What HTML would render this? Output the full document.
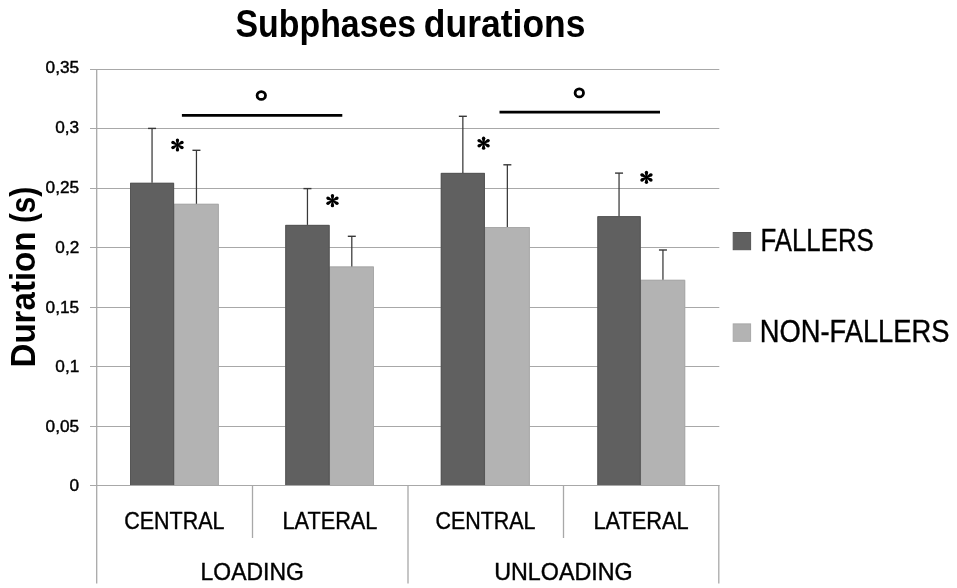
<!DOCTYPE html>
<html><head><meta charset="utf-8"><style>
html,body{margin:0;padding:0;background:#fff;width:957px;height:588px;overflow:hidden;position:relative}
svg text{-webkit-font-smoothing:antialiased}
</style></head><body>
<svg width="957" height="588" viewBox="0 0 957 588" style="position:absolute;left:0;top:0;filter:grayscale(100%)">
<line x1="90" y1="69.5" x2="719.3" y2="69.5" stroke="#a8a8a8" stroke-width="1.1"/>
<line x1="90" y1="128.5" x2="719.3" y2="128.5" stroke="#a8a8a8" stroke-width="1.1"/>
<line x1="90" y1="188.5" x2="719.3" y2="188.5" stroke="#a8a8a8" stroke-width="1.1"/>
<line x1="90" y1="247.5" x2="719.3" y2="247.5" stroke="#a8a8a8" stroke-width="1.1"/>
<line x1="90" y1="307.5" x2="719.3" y2="307.5" stroke="#a8a8a8" stroke-width="1.1"/>
<line x1="90" y1="366.5" x2="719.3" y2="366.5" stroke="#a8a8a8" stroke-width="1.1"/>
<line x1="90" y1="426.5" x2="719.3" y2="426.5" stroke="#a8a8a8" stroke-width="1.1"/>
<line x1="90" y1="485.5" x2="719.3" y2="485.5" stroke="#a8a8a8" stroke-width="1.1"/>
<line x1="96.7" y1="69" x2="96.7" y2="583.5" stroke="#a8a8a8" stroke-width="1.3"/>
<line x1="252.5" y1="485" x2="252.5" y2="538" stroke="#a8a8a8" stroke-width="1.3"/>
<line x1="408" y1="485" x2="408" y2="583.5" stroke="#a8a8a8" stroke-width="1.3"/>
<line x1="563.5" y1="485" x2="563.5" y2="538" stroke="#a8a8a8" stroke-width="1.3"/>
<line x1="718.8" y1="485" x2="718.8" y2="583.5" stroke="#a8a8a8" stroke-width="1.3"/>
<rect x="172.1" y="203.8" width="46.70" height="282.20" fill="#b3b3b3"/>
<path d="M174.10 486 V204.30 H218.30 V486" fill="none" stroke="#a8a8a8" stroke-width="1"/>
<rect x="130" y="182.8" width="44.10" height="303.20" fill="#606060"/>
<path d="M130.50 486 V183.30 H173.60 V486" fill="none" stroke="#565656" stroke-width="1"/>
<rect x="327.6" y="266.5" width="46.40" height="219.50" fill="#b3b3b3"/>
<path d="M329.60 486 V267.00 H373.50 V486" fill="none" stroke="#a8a8a8" stroke-width="1"/>
<rect x="285.3" y="224.9" width="44.30" height="261.10" fill="#606060"/>
<path d="M285.80 486 V225.40 H329.10 V486" fill="none" stroke="#565656" stroke-width="1"/>
<rect x="482.9" y="227" width="46.90" height="259.00" fill="#b3b3b3"/>
<path d="M484.90 486 V227.50 H529.30 V486" fill="none" stroke="#a8a8a8" stroke-width="1"/>
<rect x="440.8" y="172.9" width="44.10" height="313.10" fill="#606060"/>
<path d="M441.30 486 V173.40 H484.40 V486" fill="none" stroke="#565656" stroke-width="1"/>
<rect x="638.7" y="279.8" width="46.50" height="206.20" fill="#b3b3b3"/>
<path d="M640.70 486 V280.30 H684.70 V486" fill="none" stroke="#a8a8a8" stroke-width="1"/>
<rect x="597.4" y="216.2" width="43.30" height="269.80" fill="#606060"/>
<path d="M597.90 486 V216.70 H640.20 V486" fill="none" stroke="#565656" stroke-width="1"/>
<line x1="152.05" y1="182.8" x2="152.05" y2="128.4" stroke="#383838" stroke-width="1.25"/>
<line x1="148.05" y1="128.4" x2="156.05" y2="128.4" stroke="#383838" stroke-width="1.4"/>
<line x1="196.45" y1="203.8" x2="196.45" y2="150.3" stroke="#383838" stroke-width="1.25"/>
<line x1="192.45" y1="150.3" x2="200.45" y2="150.3" stroke="#383838" stroke-width="1.4"/>
<line x1="307.45" y1="224.9" x2="307.45" y2="188.6" stroke="#383838" stroke-width="1.25"/>
<line x1="303.45" y1="188.6" x2="311.45" y2="188.6" stroke="#383838" stroke-width="1.4"/>
<line x1="351.80" y1="266.5" x2="351.80" y2="236.3" stroke="#383838" stroke-width="1.25"/>
<line x1="347.80" y1="236.3" x2="355.80" y2="236.3" stroke="#383838" stroke-width="1.4"/>
<line x1="462.85" y1="172.9" x2="462.85" y2="116.3" stroke="#383838" stroke-width="1.25"/>
<line x1="458.85" y1="116.3" x2="466.85" y2="116.3" stroke="#383838" stroke-width="1.4"/>
<line x1="507.35" y1="227" x2="507.35" y2="164.8" stroke="#383838" stroke-width="1.25"/>
<line x1="503.35" y1="164.8" x2="511.35" y2="164.8" stroke="#383838" stroke-width="1.4"/>
<line x1="619.05" y1="216.2" x2="619.05" y2="173.1" stroke="#383838" stroke-width="1.25"/>
<line x1="615.05" y1="173.1" x2="623.05" y2="173.1" stroke="#383838" stroke-width="1.4"/>
<line x1="662.95" y1="279.8" x2="662.95" y2="250" stroke="#383838" stroke-width="1.25"/>
<line x1="658.95" y1="250" x2="666.95" y2="250" stroke="#383838" stroke-width="1.4"/>
<line x1="90" y1="485.5" x2="719.3" y2="485.5" stroke="#a8a8a8" stroke-width="1.1"/>
<path d="M176.75 145.00 L175.80 140.05 L179.10 140.05 L178.15 145.00Z" fill="#000"/><circle cx="177.45" cy="140.05" r="1.65" fill="#000"/><path d="M177.10 144.39 L181.17 140.95 L182.82 143.80 L177.80 145.61Z" fill="#000"/><circle cx="182.00" cy="142.38" r="1.65" fill="#000"/><path d="M177.80 144.39 L182.82 146.20 L181.17 149.05 L177.10 145.61Z" fill="#000"/><circle cx="182.00" cy="147.62" r="1.65" fill="#000"/><path d="M177.10 145.61 L172.08 143.80 L173.73 140.95 L177.80 144.39Z" fill="#000"/><circle cx="172.90" cy="142.38" r="1.65" fill="#000"/><path d="M177.80 145.61 L173.73 149.05 L172.08 146.20 L177.10 144.39Z" fill="#000"/><circle cx="172.90" cy="147.62" r="1.65" fill="#000"/><path d="M178.15 145.00 L179.10 149.95 L175.80 149.95 L176.75 145.00Z" fill="#000"/><circle cx="177.45" cy="149.95" r="1.65" fill="#000"/><circle cx="177.45" cy="145.0" r="1.1" fill="#000"/>
<path d="M331.75 200.70 L330.80 195.75 L334.10 195.75 L333.15 200.70Z" fill="#000"/><circle cx="332.45" cy="195.75" r="1.65" fill="#000"/><path d="M332.10 200.09 L336.17 196.65 L337.82 199.50 L332.80 201.31Z" fill="#000"/><circle cx="337.00" cy="198.07" r="1.65" fill="#000"/><path d="M332.80 200.09 L337.82 201.90 L336.17 204.75 L332.10 201.31Z" fill="#000"/><circle cx="337.00" cy="203.32" r="1.65" fill="#000"/><path d="M332.10 201.31 L327.08 199.50 L328.73 196.65 L332.80 200.09Z" fill="#000"/><circle cx="327.90" cy="198.07" r="1.65" fill="#000"/><path d="M332.80 201.31 L328.73 204.75 L327.08 201.90 L332.10 200.09Z" fill="#000"/><circle cx="327.90" cy="203.32" r="1.65" fill="#000"/><path d="M333.15 200.70 L334.10 205.65 L330.80 205.65 L331.75 200.70Z" fill="#000"/><circle cx="332.45" cy="205.65" r="1.65" fill="#000"/><circle cx="332.45" cy="200.7" r="1.1" fill="#000"/>
<path d="M482.90 143.20 L481.95 138.25 L485.25 138.25 L484.30 143.20Z" fill="#000"/><circle cx="483.60" cy="138.25" r="1.65" fill="#000"/><path d="M483.25 142.59 L487.32 139.15 L488.97 142.00 L483.95 143.81Z" fill="#000"/><circle cx="488.15" cy="140.57" r="1.65" fill="#000"/><path d="M483.95 142.59 L488.97 144.40 L487.32 147.25 L483.25 143.81Z" fill="#000"/><circle cx="488.15" cy="145.82" r="1.65" fill="#000"/><path d="M483.25 143.81 L478.23 142.00 L479.88 139.15 L483.95 142.59Z" fill="#000"/><circle cx="479.05" cy="140.57" r="1.65" fill="#000"/><path d="M483.95 143.81 L479.88 147.25 L478.23 144.40 L483.25 142.59Z" fill="#000"/><circle cx="479.05" cy="145.82" r="1.65" fill="#000"/><path d="M484.30 143.20 L485.25 148.15 L481.95 148.15 L482.90 143.20Z" fill="#000"/><circle cx="483.60" cy="148.15" r="1.65" fill="#000"/><circle cx="483.6" cy="143.2" r="1.1" fill="#000"/>
<path d="M645.75 177.40 L644.80 172.45 L648.10 172.45 L647.15 177.40Z" fill="#000"/><circle cx="646.45" cy="172.45" r="1.65" fill="#000"/><path d="M646.10 176.79 L650.17 173.35 L651.82 176.20 L646.80 178.01Z" fill="#000"/><circle cx="651.00" cy="174.78" r="1.65" fill="#000"/><path d="M646.80 176.79 L651.82 178.60 L650.17 181.45 L646.10 178.01Z" fill="#000"/><circle cx="651.00" cy="180.03" r="1.65" fill="#000"/><path d="M646.10 178.01 L641.08 176.20 L642.73 173.35 L646.80 176.79Z" fill="#000"/><circle cx="641.90" cy="174.78" r="1.65" fill="#000"/><path d="M646.80 178.01 L642.73 181.45 L641.08 178.60 L646.10 176.79Z" fill="#000"/><circle cx="641.90" cy="180.03" r="1.65" fill="#000"/><path d="M647.15 177.40 L648.10 182.35 L644.80 182.35 L645.75 177.40Z" fill="#000"/><circle cx="646.45" cy="182.35" r="1.65" fill="#000"/><circle cx="646.45" cy="177.4" r="1.1" fill="#000"/>
<line x1="181.9" y1="115.4" x2="342.3" y2="115.4" stroke="#000" stroke-width="2.6"/>
<line x1="499.5" y1="112.1" x2="660" y2="112.1" stroke="#000" stroke-width="2.6"/>
<ellipse cx="261.3" cy="95.5" rx="4.2" ry="3.95" fill="none" stroke="#000" stroke-width="2.8"/>
<ellipse cx="579.3" cy="92.9" rx="4.2" ry="3.95" fill="none" stroke="#000" stroke-width="2.8"/>
<rect x="733.2" y="232.5" width="17.4" height="17.2" fill="#606060" stroke="#565656" stroke-width="1"/>
<rect x="733.2" y="323.9" width="17.4" height="17.4" fill="#b3b3b3" stroke="#a8a8a8" stroke-width="1"/>
<text x="235.524" y="36.7" font-family="Liberation Sans, sans-serif" font-size="38.8" font-weight="bold" text-anchor="start" textLength="180.665" lengthAdjust="spacingAndGlyphs" fill="#000" >Subphases</text>
<text x="423.845" y="36.7" font-family="Liberation Sans, sans-serif" font-size="38.8" font-weight="bold" text-anchor="start" textLength="161.610" lengthAdjust="spacingAndGlyphs" fill="#000" >durations</text>
<text x="45.628" y="73.45" font-family="Liberation Sans, sans-serif" font-size="16.0" font-weight="normal" text-anchor="start" textLength="33.495" lengthAdjust="spacingAndGlyphs" fill="#000"  stroke="#000" stroke-width="0.4">0,35</text>
<text x="55.233" y="133.45" font-family="Liberation Sans, sans-serif" font-size="16.0" font-weight="normal" text-anchor="start" textLength="23.924" lengthAdjust="spacingAndGlyphs" fill="#000"  stroke="#000" stroke-width="0.4">0,3</text>
<text x="45.628" y="192.6" font-family="Liberation Sans, sans-serif" font-size="16.0" font-weight="normal" text-anchor="start" textLength="33.495" lengthAdjust="spacingAndGlyphs" fill="#000"  stroke="#000" stroke-width="0.4">0,25</text>
<text x="55.342" y="252.55" font-family="Liberation Sans, sans-serif" font-size="16.0" font-weight="normal" text-anchor="start" textLength="23.924" lengthAdjust="spacingAndGlyphs" fill="#000"  stroke="#000" stroke-width="0.4">0,2</text>
<text x="45.628" y="312.6" font-family="Liberation Sans, sans-serif" font-size="16.0" font-weight="normal" text-anchor="start" textLength="33.495" lengthAdjust="spacingAndGlyphs" fill="#000"  stroke="#000" stroke-width="0.4">0,15</text>
<text x="55.317" y="371.7" font-family="Liberation Sans, sans-serif" font-size="16.0" font-weight="normal" text-anchor="start" textLength="23.924" lengthAdjust="spacingAndGlyphs" fill="#000"  stroke="#000" stroke-width="0.4">0,1</text>
<text x="45.628" y="431.55" font-family="Liberation Sans, sans-serif" font-size="16.0" font-weight="normal" text-anchor="start" textLength="33.495" lengthAdjust="spacingAndGlyphs" fill="#000"  stroke="#000" stroke-width="0.4">0,05</text>
<text x="69.501" y="490.65" font-family="Liberation Sans, sans-serif" font-size="16.0" font-weight="normal" text-anchor="start" textLength="9.571" lengthAdjust="spacingAndGlyphs" fill="#000"  stroke="#000" stroke-width="0.4">0</text>
<text x="124.210" y="528.6" font-family="Liberation Sans, sans-serif" font-size="24" font-weight="normal" text-anchor="start" textLength="100.203" lengthAdjust="spacingAndGlyphs" fill="#000"  stroke="#000" stroke-width="0.4">CENTRAL</text>
<text x="282.550" y="528.6" font-family="Liberation Sans, sans-serif" font-size="24" font-weight="normal" text-anchor="start" textLength="94.858" lengthAdjust="spacingAndGlyphs" fill="#000"  stroke="#000" stroke-width="0.4">LATERAL</text>
<text x="435.411" y="528.6" font-family="Liberation Sans, sans-serif" font-size="24" font-weight="normal" text-anchor="start" textLength="100.101" lengthAdjust="spacingAndGlyphs" fill="#000"  stroke="#000" stroke-width="0.4">CENTRAL</text>
<text x="593.442" y="528.6" font-family="Liberation Sans, sans-serif" font-size="24" font-weight="normal" text-anchor="start" textLength="95.269" lengthAdjust="spacingAndGlyphs" fill="#000"  stroke="#000" stroke-width="0.4">LATERAL</text>
<text x="200.617" y="579.9" font-family="Liberation Sans, sans-serif" font-size="24" font-weight="normal" text-anchor="start" textLength="103.297" lengthAdjust="spacingAndGlyphs" fill="#000"  stroke="#000" stroke-width="0.4">LOADING</text>
<text x="494.202" y="579.9" font-family="Liberation Sans, sans-serif" font-size="24" font-weight="normal" text-anchor="start" textLength="138.539" lengthAdjust="spacingAndGlyphs" fill="#000"  stroke="#000" stroke-width="0.4">UNLOADING</text>
<text x="760.409" y="250.9" font-family="Liberation Sans, sans-serif" font-size="31" font-weight="normal" text-anchor="start" textLength="113.362" lengthAdjust="spacingAndGlyphs" fill="#000"  stroke="#000" stroke-width="0.4">FALLERS</text>
<text x="759.778" y="342.1" font-family="Liberation Sans, sans-serif" font-size="31" font-weight="normal" text-anchor="start" textLength="189.666" lengthAdjust="spacingAndGlyphs" fill="#000"  stroke="#000" stroke-width="0.4">NON-FALLERS</text>
<g transform="translate(34.9,0) rotate(-90)"><text x="-367.514" y="0" font-family="Liberation Sans, sans-serif" font-size="34.2" font-weight="bold" text-anchor="start" textLength="136.067" lengthAdjust="spacingAndGlyphs" fill="#000" >Duration</text><text x="-223.077" y="0" font-family="Liberation Sans, sans-serif" font-size="34.2" font-weight="bold" text-anchor="start" textLength="36.255" lengthAdjust="spacingAndGlyphs" fill="#000" >(s)</text></g>
</svg>
</body></html>
